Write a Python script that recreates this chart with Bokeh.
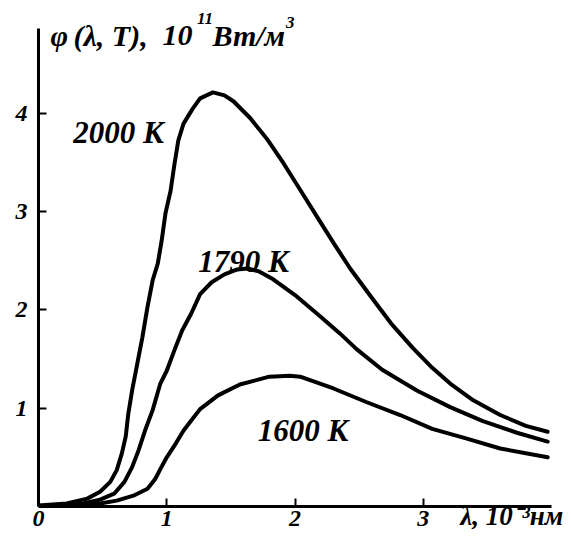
from bokeh.plotting import figure
from bokeh.models import Range1d, FixedTicker, Label, LinearAxis
from bokeh.embed import file_html
from bokeh.resources import INLINE

# wavelength in 10^-3 nm, spectral density in 10^11 W/m^3
lam_2000 = [0, 0.22, 0.38, 0.48, 0.56, 0.61, 0.65, 0.68, 0.70, 0.73, 0.77, 0.81,
            0.85, 0.89, 0.93, 0.96, 0.99, 1.03, 1.06, 1.09, 1.13, 1.20, 1.26, 1.36,
            1.45, 1.52, 1.65, 1.78, 1.91, 2.04, 2.17, 2.30, 2.43, 2.60, 2.75, 2.92,
            3.07, 3.21, 3.39, 3.60, 3.80, 3.97]
phi_2000 = [0.01, 0.03, 0.08, 0.15, 0.25, 0.37, 0.54, 0.71, 0.94, 1.18, 1.45, 1.72,
            2.03, 2.30, 2.47, 2.70, 2.98, 3.21, 3.48, 3.72, 3.89, 4.04, 4.15, 4.21,
            4.18, 4.12, 3.95, 3.74, 3.49, 3.22, 2.95, 2.68, 2.42, 2.12, 1.86, 1.61,
            1.41, 1.25, 1.08, 0.93, 0.82, 0.76]

lam_1790 = [0, 0.20, 0.35, 0.48, 0.59, 0.67, 0.73, 0.78, 0.83, 0.89, 0.95, 1.00,
            1.06, 1.12, 1.19, 1.26, 1.35, 1.45, 1.55, 1.63, 1.72, 1.83, 2.00, 2.20,
            2.35, 2.48, 2.68, 2.95, 3.21, 3.46, 3.73, 3.97]
phi_1790 = [0.0, 0.01, 0.03, 0.07, 0.13, 0.25, 0.40, 0.57, 0.77, 0.98, 1.25, 1.38,
            1.59, 1.79, 1.96, 2.16, 2.28, 2.36, 2.41, 2.42, 2.39, 2.31, 2.15, 1.93,
            1.76, 1.60, 1.39, 1.18, 1.01, 0.87, 0.75, 0.66]

lam_1600 = [0, 0.30, 0.48, 0.61, 0.74, 0.85, 0.91, 0.95, 1.00, 1.07, 1.13, 1.20,
            1.26, 1.40, 1.57, 1.80, 1.96, 2.04, 2.30, 2.56, 2.82, 3.07, 3.34, 3.60,
            3.97]
phi_1600 = [0.0, 0.01, 0.03, 0.06, 0.11, 0.18, 0.28, 0.38, 0.50, 0.64, 0.77, 0.89,
            0.99, 1.13, 1.24, 1.32, 1.33, 1.32, 1.20, 1.06, 0.93, 0.79, 0.69, 0.59,
            0.50]

x_ticks = [0, 1, 2, 3]
y_ticks = [1, 2, 3, 4]
curve_labels = ["2000 К", "1790 К", "1600 К"]
x_title = "λ, 10⁻³нм"
x_title_at = 3.69
y_title_parts = ["φ", "(λ, T),", "10", "11", "Вт/м", "3"]

FONT = "Liberation Serif"
Y_TOP = 4.86

p = figure(width=571, height=545, output_backend="svg", toolbar_location=None,
           x_range=Range1d(0, 4.0), y_range=Range1d(0, 5.043),
           min_border_left=38, min_border_right=20, min_border_top=10,
           min_border_bottom=39)
p.grid.visible = False
p.outline_line_color = None
p.background_fill_color = "white"
p.border_fill_color = "white"

# axis lines, inward ticks, tick labels
for ax in p.axis:
    ax.axis_line_width = 3
    ax.axis_line_color = "black"
    ax.major_tick_in = 8
    ax.major_tick_out = 0
    ax.major_tick_line_width = 2
    ax.major_tick_line_color = "black"
    ax.minor_tick_line_color = None
    ax.major_label_text_font = FONT
    ax.major_label_text_font_size = "24px"
    ax.major_label_text_font_style = "bold italic"
    ax.major_label_text_color = "black"
p.xaxis.ticker = FixedTicker(ticks=x_ticks)
p.yaxis.ticker = FixedTicker(ticks=y_ticks)
p.yaxis.bounds = (0, Y_TOP)
p.yaxis.major_label_standoff = 11
p.xaxis.major_label_standoff = 4

# x-axis title on the same line as the tick labels (no line, no tick mark)
xlab = LinearAxis(ticker=FixedTicker(ticks=[x_title_at]),
                  major_label_overrides={x_title_at: x_title},
                  axis_line_color=None, major_tick_line_color=None,
                  minor_tick_line_color=None, major_tick_in=0, major_tick_out=0,
                  major_label_standoff=-28, major_label_text_font=FONT,
                  major_label_text_font_size="27px",
                  major_label_text_font_style="bold italic",
                  major_label_text_color="black")
p.add_layout(xlab, "below")

for lx, ly in [(lam_2000, phi_2000), (lam_1790, phi_1790), (lam_1600, phi_1600)]:
    p.line(lx, ly, line_width=4, line_color="black", line_join="round", line_cap="round")

label_pos = [(0.27, 3.80), (1.245, 2.49), (1.71, 0.77)]
for txt, (lx, ly) in zip(curve_labels, label_pos):
    p.add_layout(Label(x=lx, y=ly, text=txt, text_font=FONT, text_font_size="31px",
                       text_font_style="bold italic", text_color="black",
                       text_baseline="alphabetic", text_align="left"))

# y-axis title, with superscripts
title_pos = [(0.094, 4.789, "30px"), (0.273, 4.789, "30px"), (0.966, 4.789, "30px"),
             (1.235, 4.957, "17px"), (1.357, 4.789, "30px"), (1.93, 4.92, "17px")]
for txt, (lx, ly, fs) in zip(y_title_parts, title_pos):
    p.add_layout(Label(x=lx, y=ly, text=txt, text_font=FONT, text_font_size=fs,
                       text_font_style="bold italic", text_color="black",
                       text_baseline="alphabetic", text_align="left"))

open("out.html", "w").write(file_html(p, INLINE))
